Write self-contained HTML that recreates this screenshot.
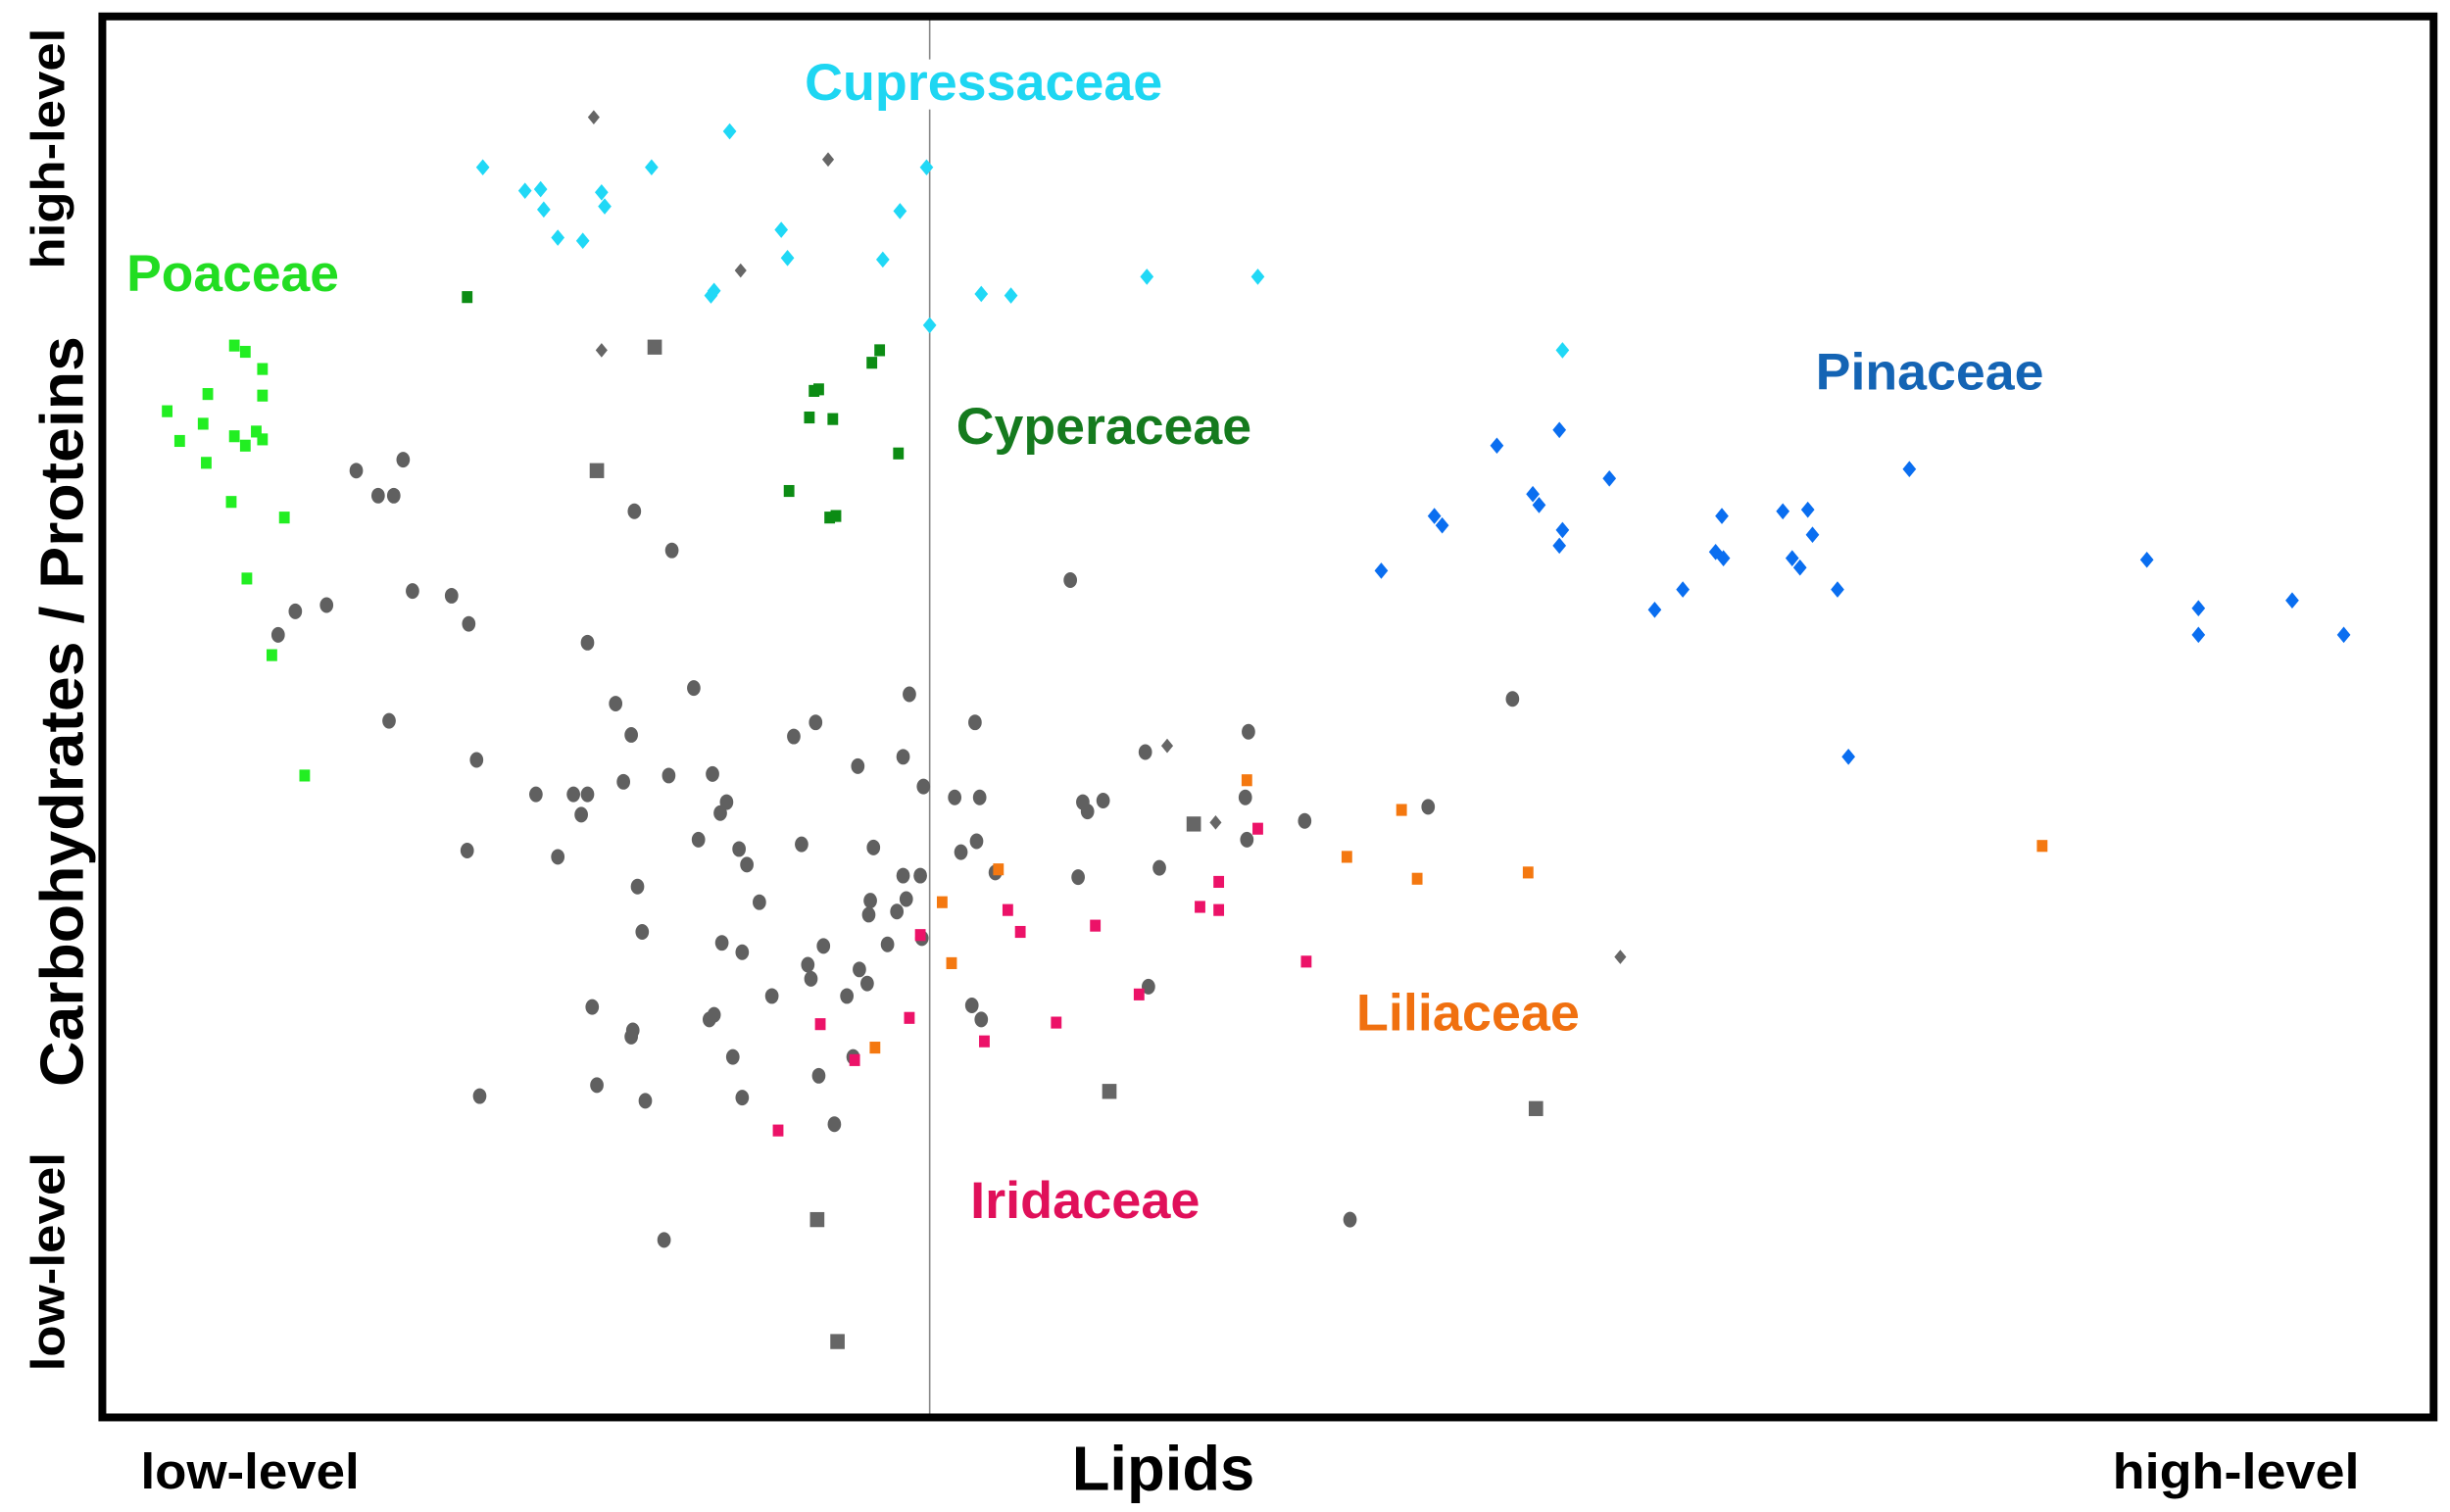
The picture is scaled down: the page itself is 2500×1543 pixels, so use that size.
<!DOCTYPE html>
<html><head><meta charset="utf-8"><style>
html,body{margin:0;padding:0;background:#fff;}
svg{display:block;}
</style></head><body>
<svg width="2500" height="1543" viewBox="0 0 1568 967" preserveAspectRatio="none" xmlns="http://www.w3.org/2000/svg">
<defs>
<path id="d" d="M0,-5.2 L4.3,0 L0,5.2 L-4.3,0Z"/>
<path id="g" d="M0,-4.6 L3.8,0 L0,4.6 L-3.8,0Z"/>
<rect id="s" x="-3.4" y="-3.8" width="6.8" height="7.6"/>
<rect id="q" x="-4.6" y="-4.8" width="9.2" height="9.6"/>
<ellipse id="c" rx="4.3" ry="5"/>
</defs>
<rect width="1568" height="967" fill="#fff"/>
<line x1="595" y1="10" x2="595" y2="906" stroke="#888" stroke-width="1"/>
<rect x="512" y="38" width="236" height="32" fill="#fff"/>
<rect x="65.5" y="10.5" width="1492" height="896" fill="none" stroke="#000" stroke-width="5"/>

<g fill="#20d8f6">
<use href="#d" x="309" y="107"/><use href="#d" x="336" y="122"/><use href="#d" x="346" y="121"/><use href="#d" x="348" y="134"/><use href="#d" x="357" y="152"/><use href="#d" x="373" y="154"/><use href="#d" x="385" y="123"/><use href="#d" x="387" y="132"/><use href="#d" x="417" y="107"/><use href="#d" x="467" y="84"/><use href="#d" x="500" y="147"/><use href="#d" x="504" y="165"/><use href="#d" x="457" y="186"/><use href="#d" x="455" y="189"/><use href="#d" x="565" y="166"/><use href="#d" x="576" y="135"/><use href="#d" x="593" y="107"/><use href="#d" x="595" y="208"/><use href="#d" x="628" y="188"/><use href="#d" x="647" y="189"/><use href="#d" x="734" y="177"/><use href="#d" x="805" y="177"/><use href="#d" x="1000" y="224"/>
</g>
<g fill="#666">
<use href="#g" x="380" y="75"/><use href="#g" x="530" y="102"/><use href="#g" x="474" y="173"/><use href="#g" x="385" y="224"/><use href="#g" x="747" y="477"/><use href="#g" x="778" y="526"/><use href="#g" x="1037" y="612"/>
<use href="#q" x="419" y="222"/><use href="#q" x="382" y="301"/><use href="#q" x="764" y="527"/><use href="#q" x="710" y="698"/><use href="#q" x="983" y="709"/><use href="#q" x="523" y="780"/><use href="#q" x="536" y="858"/>
</g>
<g fill="#22ee22">
<use href="#s" x="150" y="221"/><use href="#s" x="157" y="225"/><use href="#s" x="168" y="236"/><use href="#s" x="133" y="252"/><use href="#s" x="107" y="263"/><use href="#s" x="168" y="253"/><use href="#s" x="130" y="271"/><use href="#s" x="115" y="282"/><use href="#s" x="150" y="279"/><use href="#s" x="157" y="285"/><use href="#s" x="164" y="276"/><use href="#s" x="168" y="281"/><use href="#s" x="132" y="296"/><use href="#s" x="148" y="321"/><use href="#s" x="182" y="331"/><use href="#s" x="158" y="370"/><use href="#s" x="174" y="419"/><use href="#s" x="195" y="496"/>
</g>
<g fill="#0c8c14">
<use href="#s" x="299" y="190"/><use href="#s" x="563" y="224"/><use href="#s" x="558" y="232"/><use href="#s" x="524" y="249"/><use href="#s" x="521" y="250"/><use href="#s" x="518" y="267"/><use href="#s" x="533" y="268"/><use href="#s" x="575" y="290"/><use href="#s" x="505" y="314"/><use href="#s" x="531" y="331"/><use href="#s" x="535" y="330"/>
</g>
<g fill="#0a6ef0">
<use href="#d" x="884" y="365"/><use href="#d" x="918" y="330"/><use href="#d" x="923" y="336"/><use href="#d" x="958" y="285"/><use href="#d" x="998" y="275"/><use href="#d" x="981" y="316"/><use href="#d" x="985" y="323"/><use href="#d" x="1030" y="306"/><use href="#d" x="1000" y="339"/><use href="#d" x="998" y="349"/><use href="#d" x="1059" y="390"/><use href="#d" x="1077" y="377"/><use href="#d" x="1102" y="330"/><use href="#d" x="1098" y="353"/><use href="#d" x="1103" y="357"/><use href="#d" x="1141" y="327"/><use href="#d" x="1157" y="326"/><use href="#d" x="1160" y="342"/><use href="#d" x="1147" y="357"/><use href="#d" x="1152" y="363"/><use href="#d" x="1176" y="377"/><use href="#d" x="1222" y="300"/><use href="#d" x="1183" y="484"/><use href="#d" x="1374" y="358"/><use href="#d" x="1407" y="389"/><use href="#d" x="1407" y="406"/><use href="#d" x="1467" y="384"/><use href="#d" x="1500" y="406"/>
</g>
<g fill="#606060">
<use href="#c" x="228" y="301"/><use href="#c" x="258" y="294"/><use href="#c" x="242" y="317"/><use href="#c" x="252" y="317"/><use href="#c" x="406" y="327"/><use href="#c" x="430" y="352"/><use href="#c" x="685" y="371"/><use href="#c" x="264" y="378"/><use href="#c" x="289" y="381"/><use href="#c" x="209" y="387"/><use href="#c" x="189" y="391"/><use href="#c" x="178" y="406"/><use href="#c" x="300" y="399"/><use href="#c" x="376" y="411"/><use href="#c" x="249" y="461"/><use href="#c" x="444" y="440"/><use href="#c" x="394" y="450"/><use href="#c" x="582" y="444"/><use href="#c" x="624" y="462"/><use href="#c" x="522" y="462"/><use href="#c" x="404" y="470"/><use href="#c" x="508" y="471"/><use href="#c" x="733" y="481"/><use href="#c" x="799" y="468"/><use href="#c" x="968" y="447"/><use href="#c" x="305" y="486"/><use href="#c" x="428" y="496"/><use href="#c" x="456" y="495"/><use href="#c" x="549" y="490"/><use href="#c" x="578" y="484"/><use href="#c" x="343" y="508"/><use href="#c" x="367" y="508"/><use href="#c" x="376" y="508"/><use href="#c" x="399" y="500"/><use href="#c" x="372" y="521"/><use href="#c" x="465" y="513"/><use href="#c" x="461" y="520"/><use href="#c" x="591" y="503"/><use href="#c" x="611" y="510"/><use href="#c" x="627" y="510"/><use href="#c" x="693" y="513"/><use href="#c" x="696" y="519"/><use href="#c" x="706" y="512"/><use href="#c" x="797" y="510"/><use href="#c" x="835" y="525"/><use href="#c" x="914" y="516"/><use href="#c" x="447" y="537"/><use href="#c" x="513" y="540"/><use href="#c" x="473" y="543"/><use href="#c" x="478" y="553"/><use href="#c" x="299" y="544"/><use href="#c" x="357" y="548"/><use href="#c" x="589" y="560"/><use href="#c" x="615" y="545"/><use href="#c" x="625" y="538"/><use href="#c" x="690" y="561"/><use href="#c" x="798" y="537"/><use href="#c" x="559" y="542"/><use href="#c" x="578" y="560"/><use href="#c" x="557" y="576"/><use href="#c" x="580" y="575"/><use href="#c" x="742" y="555"/><use href="#c" x="637" y="558"/><use href="#c" x="408" y="567"/><use href="#c" x="486" y="577"/><use href="#c" x="556" y="585"/><use href="#c" x="574" y="583"/><use href="#c" x="568" y="604"/><use href="#c" x="590" y="600"/><use href="#c" x="411" y="596"/><use href="#c" x="462" y="603"/><use href="#c" x="475" y="609"/><use href="#c" x="527" y="605"/><use href="#c" x="517" y="617"/><use href="#c" x="555" y="629"/><use href="#c" x="622" y="643"/><use href="#c" x="628" y="652"/><use href="#c" x="494" y="637"/><use href="#c" x="542" y="637"/><use href="#c" x="457" y="649"/><use href="#c" x="454" y="652"/><use href="#c" x="735" y="631"/><use href="#c" x="379" y="644"/><use href="#c" x="405" y="659"/><use href="#c" x="404" y="663"/><use href="#c" x="469" y="676"/><use href="#c" x="524" y="688"/><use href="#c" x="534" y="719"/><use href="#c" x="382" y="694"/><use href="#c" x="413" y="704"/><use href="#c" x="475" y="702"/><use href="#c" x="307" y="701"/><use href="#c" x="425" y="793"/><use href="#c" x="864" y="780"/><use href="#c" x="550" y="620"/><use href="#c" x="519" y="626"/><use href="#c" x="546" y="676"/>
</g>
<g fill="#f47810">
<use href="#s" x="798" y="499"/><use href="#s" x="897" y="518"/><use href="#s" x="862" y="548"/><use href="#s" x="907" y="562"/><use href="#s" x="978" y="558"/><use href="#s" x="1307" y="541"/><use href="#s" x="639" y="556"/><use href="#s" x="603" y="577"/><use href="#s" x="609" y="616"/><use href="#s" x="560" y="670"/>
</g>
<g fill="#ec1268">
<use href="#s" x="805" y="530"/><use href="#s" x="780" y="564"/><use href="#s" x="768" y="580"/><use href="#s" x="780" y="582"/><use href="#s" x="836" y="615"/><use href="#s" x="701" y="592"/><use href="#s" x="729" y="636"/><use href="#s" x="676" y="654"/><use href="#s" x="645" y="582"/><use href="#s" x="653" y="596"/><use href="#s" x="630" y="666"/><use href="#s" x="589" y="598"/><use href="#s" x="582" y="651"/><use href="#s" x="525" y="655"/><use href="#s" x="547" y="678"/><use href="#s" x="498" y="723"/>
</g>

<g font-family="'Liberation Sans',sans-serif" font-weight="bold" font-size="33">
<text x="515" y="64" fill="#1ed6f2" textLength="229" lengthAdjust="spacingAndGlyphs">Cupressaceae</text>
<text x="81" y="186" fill="#22dd22" textLength="136" lengthAdjust="spacingAndGlyphs">Poaceae</text>
<text x="612" y="284" fill="#157a1e" textLength="189" lengthAdjust="spacingAndGlyphs">Cyperaceae</text>
<text x="1162" y="249" fill="#1464b4" textLength="146" lengthAdjust="spacingAndGlyphs">Pinaceae</text>
<text x="868" y="659" fill="#f07010" textLength="143" lengthAdjust="spacingAndGlyphs">Liliaceae</text>
<text x="621" y="779" fill="#e0105a" textLength="147" lengthAdjust="spacingAndGlyphs">Iridaceae</text>
</g>
<g font-family="'Liberation Sans',sans-serif" font-weight="bold" fill="#000">
<text x="90" y="952" font-size="32" textLength="140" lengthAdjust="spacingAndGlyphs">low-level</text>
<text x="686" y="953" font-size="40" textLength="117" lengthAdjust="spacingAndGlyphs">Lipids</text>
<text x="1352" y="952" font-size="32" textLength="158" lengthAdjust="spacingAndGlyphs">high-level</text>
</g>
<g font-family="'Liberation Sans',sans-serif" font-weight="bold" fill="#000">
<text transform="translate(53,695) rotate(-90)" font-size="39" textLength="480" lengthAdjust="spacingAndGlyphs">Carbohydrates / Proteins</text>
<text transform="translate(41,172) rotate(-90)" font-size="30" textLength="154" lengthAdjust="spacingAndGlyphs">high-level</text>
<text transform="translate(41,877) rotate(-90)" font-size="30" textLength="140" lengthAdjust="spacingAndGlyphs">low-level</text>
</g>
</svg>
</body></html>
